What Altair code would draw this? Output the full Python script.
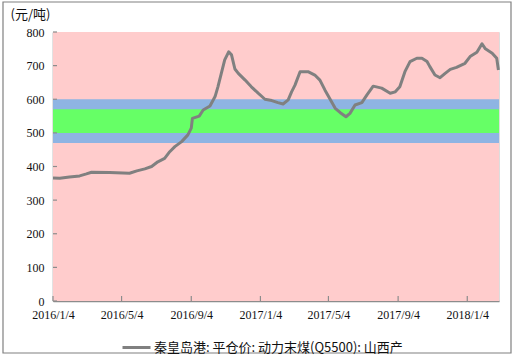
import altair as alt
import pandas as pd

# ---- data ----
dates = [
    "2016/01/04", "2016/01/16", "2016/02/02", "2016/02/20", "2016/03/03", "2016/03/12",
    "2016/04/13", "2016/05/18", "2016/05/31", "2016/06/14", "2016/06/26", "2016/07/07",
    "2016/07/19", "2016/07/28", "2016/08/06", "2016/08/18", "2016/08/29", "2016/09/04",
    "2016/09/06", "2016/09/18", "2016/09/25", "2016/10/07", "2016/10/16", "2016/10/21",
    "2016/10/27", "2016/11/02", "2016/11/09", "2016/11/14", "2016/11/20", "2016/11/26",
    "2016/12/08", "2016/12/19", "2016/12/31", "2017/01/12", "2017/01/24", "2017/02/04",
    "2017/02/13", "2017/02/22", "2017/02/28", "2017/03/06", "2017/03/15", "2017/03/29",
    "2017/04/10", "2017/04/19", "2017/04/28", "2017/05/07", "2017/05/16", "2017/05/25",
    "2017/06/04", "2017/06/11", "2017/06/20", "2017/07/02", "2017/07/11", "2017/07/22",
    "2017/08/06", "2017/08/21", "2017/08/30", "2017/09/07", "2017/09/16", "2017/09/25",
    "2017/10/07", "2017/10/16", "2017/10/25", "2017/10/30", "2017/11/08", "2017/11/17",
    "2017/11/26", "2017/12/05", "2017/12/16", "2017/12/31", "2018/01/09", "2018/01/21",
    "2018/01/30", "2018/02/05", "2018/02/17", "2018/02/25", "2018/02/28",
]
prices = [
    366, 365, 369, 372, 378, 383,
    382, 380, 387, 393, 400, 414,
    424, 444, 459, 474, 494, 514,
    543, 550, 568, 580, 608, 637,
    677, 717, 741, 732, 690, 677,
    657, 637, 618, 600, 596, 590,
    586, 598, 622, 642, 682, 682,
    672, 657, 627, 600, 573, 560,
    548, 558, 583, 590, 613, 639,
    633, 618, 622, 637, 682, 712,
    722, 722, 712, 697, 672, 664,
    677, 689, 695, 707, 727, 740,
    765, 750, 737, 722, 687,
]
series_name = "秦皇岛港: 平仓价: 动力末煤(Q5500): 山西产"

band_lo = [0, 470, 500]
band_hi = [800, 600, 570]
band_color = ["#FFCCCC", "#8EB4E3", "#66FF66"]

x_ticks = ["2016/01/04", "2016/05/04", "2016/09/04", "2017/01/04",
           "2017/05/04", "2017/09/04", "2018/01/04"]
y_ticks = [0, 100, 200, 300, 400, 500, 600, 700, 800]

x_start = "2016/01/04"
x_end = "2018/03/01"

# ---- layout ----
W, H = 446, 269
AXIS_GRAY = "#8C8C8C"
LINE_GRAY = "#808080"
SERIF = "Liberation Serif"
CJK = "Noto Sans CJK SC"

df = pd.DataFrame({"date": dates, "price": prices, "series": series_name})
bands = pd.DataFrame({"lo": band_lo, "hi": band_hi, "c": band_color})
xt = pd.DataFrame({"date": x_ticks})
yt = pd.DataFrame({"v": y_ticks})

def dt(s):
    y, m, d = [int(p) for p in s.split("/")]
    return alt.DateTime(year=y, month=m, date=d)

xscale = alt.Scale(domain=[dt(x_start), dt(x_end)])
yscale = alt.Scale(domain=[0, 800], nice=False)

yaxis = alt.Axis(values=y_ticks, ticks=False, tickSize=0, grid=False,
                 labelFont=SERIF, labelFontSize=12, labelColor="#111",
                 labelPadding=9, labelOverlap=False,
                 domainColor=AXIS_GRAY, domainWidth=1.5,
                 title="(元/吨)", titleAngle=0, titleFont=CJK,
                 titleFontSize=13, titleFontWeight="normal",
                 titleAlign="left", titleBaseline="middle",
                 titleX=-43, titleY=-18, titleColor="#111")

xaxis = alt.Axis(values=[dt(s) for s in x_ticks], format="%Y/%-m/%-d",
                 ticks=False, tickSize=0, grid=False, labelFont=SERIF,
                 labelFontSize=12, labelColor="#111", labelPadding=8,
                 domainColor=AXIS_GRAY, domainWidth=1.5, title=None,
                 labelOverlap=False, labelFlush=False)

bg = alt.Chart(bands).mark_rect().encode(
    x=alt.value(0), x2=alt.value(W),
    y=alt.Y("lo:Q", scale=yscale, axis=yaxis),
    y2="hi:Q",
    color=alt.Color("c:N", scale=None),
)

line = alt.Chart(df).mark_line(strokeWidth=3, strokeJoin="round").encode(
    x=alt.X("date:T", scale=xscale, axis=xaxis),
    y=alt.Y("price:Q", scale=yscale, axis=yaxis),
    color=alt.Color("series:N", scale=alt.Scale(range=[LINE_GRAY]),
                    legend=alt.Legend(orient="none", legendX=68, legendY=300,
                                      title=None, symbolType="stroke",
                                      symbolSize=784, symbolStrokeWidth=3,
                                      labelFont=CJK, labelFontSize=13,
                                      labelColor="#111", labelOffset=2,
                                      labelLimit=0, padding=0)),
)

xtick = alt.Chart(xt).mark_rule(color=AXIS_GRAY, strokeWidth=1.2).encode(
    x=alt.X("date:T", scale=xscale, axis=xaxis), y=alt.value(H), y2=alt.value(H - 5))

ytick = alt.Chart(yt).mark_rule(color=AXIS_GRAY, strokeWidth=1.2).encode(
    y=alt.Y("v:Q", scale=yscale, axis=yaxis), x=alt.value(0), x2=alt.value(4))

border = alt.Chart(alt.Data(values=[{}])).mark_rect(
    fill=None, stroke="#808080", strokeWidth=1.2).encode(
    x=alt.value(-50), x2=alt.value(458), y=alt.value(-30), y2=alt.value(321))

chart = alt.layer(bg, xtick, ytick, line, border).properties(
    width=W, height=H,
    autosize=alt.AutoSizeParams(type="none"),
    padding={"left": 53, "top": 32, "right": 14, "bottom": 56},
).configure_view(stroke=None).configure(background="white")

chart.save("out.html", embed_options={"renderer": "svg", "actions": False})
